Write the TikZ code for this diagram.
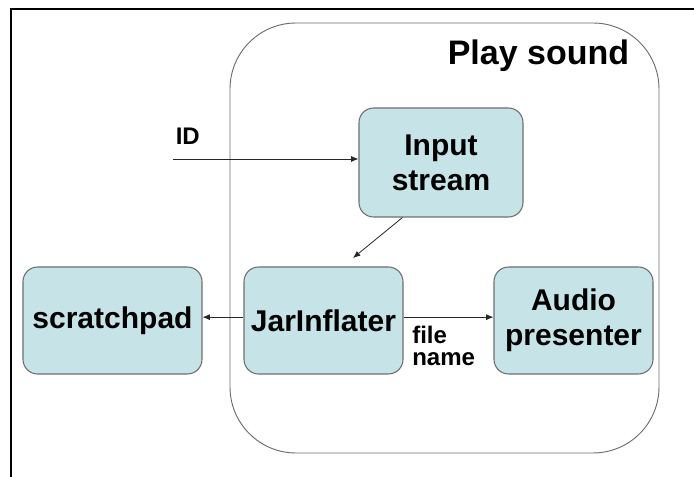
\documentclass[tikz,border=0pt]{standalone}
\usepackage{fontspec}
\setmainfont{Liberation Sans}
\usetikzlibrary{arrows.meta}
\definecolor{boxfill}{RGB}{198,228,232}
\definecolor{boxline}{RGB}{110,110,110}
\begin{document}
\begin{tikzpicture}[x=0.75pt,y=-0.75pt,
  proc/.style={draw=boxline, line width=0.8pt, fill=boxfill, rounded corners=11pt, align=center, font=\fontsize{22.5}{26}\selectfont\bfseries, inner sep=0pt},
  arr/.style={-{Latex[length=5.5pt,width=4.5pt]}, line width=0.6pt, draw=black!85},
  lbl/.style={font=\fontsize{18}{16.5}\selectfont\bfseries, inner sep=0pt, align=left}]
\useasboundingbox (0,0) rectangle (694,477);
\fill[white] (0,0) rectangle (694,477);
\draw[line width=1.6pt] (11,9) rectangle (720,500);
\node[draw=boxline, line width=0.7pt, rounded corners=49.5pt, minimum width=321.75pt, minimum height=322.5pt] (ps) at (444.5,238) {};
\node[anchor=base west, inner sep=0pt, font=\fontsize{25.5}{30}\selectfont\bfseries] (title) at (447.5,65) {Play sound};
\node[proc, minimum width=123pt, minimum height=81.75pt] (is) at (441,162.5) {Input\\stream};
\node[proc, minimum width=134.25pt, minimum height=80.25pt] (sp) at (112.5,320.5) {scratchpad};
\node[proc, minimum width=119.25pt, minimum height=80.25pt] (jar) at (323.5,320.5) {JarInflater};
\node[proc, minimum width=119.25pt, minimum height=80.25pt] (ap) at (573.5,320.5) {Audio\\presenter};
\coordinate (idstart) at (173,159);
\draw[arr] (idstart) -- (idstart -| is.west);
\node[lbl, anchor=base west] (id) at (175.5,145) {ID};
\coordinate (jtip) at (353,258);
\draw[arr] (is.-125.6) -- (jtip);
\draw[arr] ([yshift=2.5pt]jar.west) -- ([yshift=2.5pt]sp.east);
\draw[arr] ([yshift=2.5pt]jar.east) -- ([yshift=2.5pt]ap.west);
\node[lbl, anchor=north west] (fn) at (412,326) {file\\name};
\end{tikzpicture}
\end{document}
